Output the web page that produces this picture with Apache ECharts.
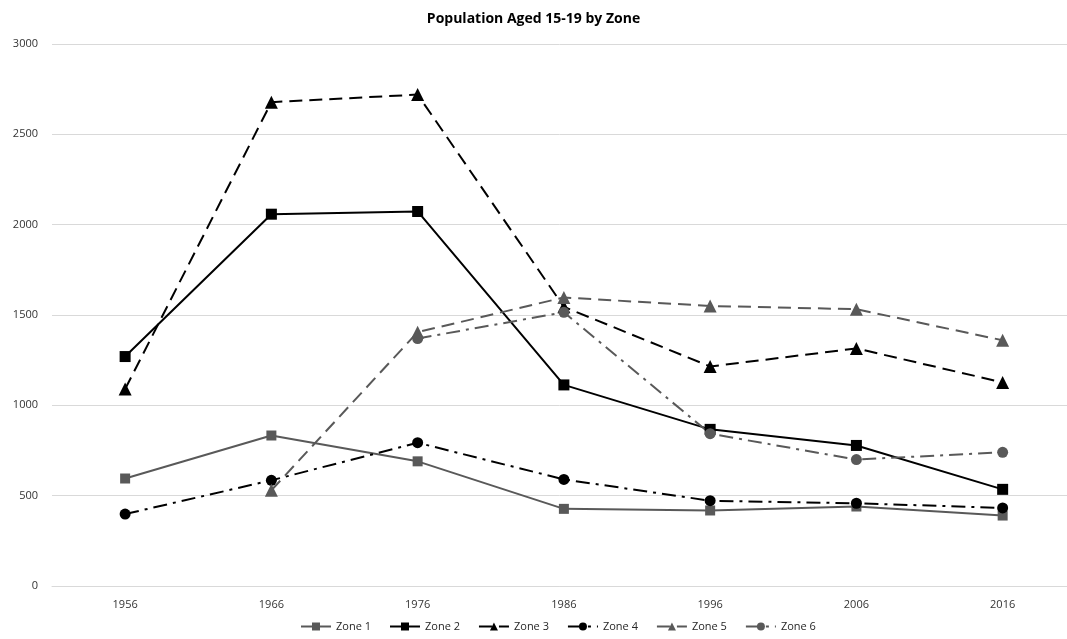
<!DOCTYPE html>
<html>
<head>
<meta charset="utf-8">
<script src="https://cdn.jsdelivr.net/npm/echarts@6/dist/echarts.min.js"></script>
<style>
  html, body { margin: 0; padding: 0; background: #fff; }
  #chart { width: 1067px; height: 639px; }
</style>
</head>
<body>
<div id="chart"></div>
<script>
// Census years
const years = [1956, 1966, 1976, 1986, 1996, 2006, 2016];

// Population aged 15-19 per zone (null = no figure for that year)
const zone1 = [595, 833, 690, 427, 418, 440, 390];
const zone2 = [1270, 2058, 2073, 1113, 867, 778, 535];
const zone3 = [1090, 2678, 2720, 1545, 1215, 1315, 1127];
const zone4 = [398, 585, 793, 590, 472, 458, 432];
const zone5 = [null, 530, 1405, 1597, 1550, 1532, 1360];
const zone6 = [null, null, 1370, 1515, 843, 700, 740];

const yTicks = [0, 500, 1000, 1500, 2000, 2500, 3000];

const BLACK = '#000000';
const GREY = '#595959';

function pairs(values) {
  return years.map((y, i) => [y, values[i]]);
}

function line(name, data, color, dash, symbol, size) {
  return {
    name: name,
    type: 'line',
    data: pairs(data),
    connectNulls: false,
    symbol: symbol,
    symbolSize: size,
    itemStyle: { color: color },
    lineStyle: { color: color, width: 2, type: dash },
    emphasis: { disabled: true },
    z: 3
  };
}

const chart = echarts.init(document.getElementById('chart'));
chart.setOption({
  animation: false,
  backgroundColor: '#ffffff',
  title: {
    text: 'Population Aged 15-19 by Zone',
    left: 'center',
    top: 7,
    textStyle: { fontFamily: 'Open Sans', fontSize: 14, fontWeight: 'bold', color: '#000' }
  },
  legend: {
    bottom: 2,
    left: 295,
    itemWidth: 30,
    itemHeight: 10,
    itemGap: 18,
    textStyle: { fontFamily: 'Open Sans', fontSize: 11, color: '#262626' },
    data: ['Zone 1', 'Zone 2', 'Zone 3', 'Zone 4', 'Zone 5', 'Zone 6']
  },
  grid: { left: 52, top: 44, bottom: 53, right: 0 },
  xAxis: {
    type: 'value',
    min: 1951,
    max: 2020.4,
    splitLine: { show: false },
    axisLine: { show: true, onZero: true, lineStyle: { color: '#d9d9d9' } },
    axisTick: { show: false },
    axisLabel: {
      customValues: years,
      fontFamily: 'Open Sans', fontSize: 11, color: '#333333', margin: 13,
      formatter: v => String(v)
    }
  },
  yAxis: {
    type: 'value',
    min: yTicks[0],
    max: yTicks[yTicks.length - 1],
    interval: 500,
    axisLine: { show: false },
    axisTick: { show: false },
    axisLabel: {
      fontFamily: 'Open Sans', fontSize: 11, color: '#333333', margin: 14,
      formatter: v => String(v)
    },
    splitLine: { lineStyle: { color: '#d9d9d9', width: 1 } }
  },
  series: [
    line('Zone 1', zone1, GREY, 'solid', 'rect', 10),
    line('Zone 2', zone2, BLACK, 'solid', 'rect', 11),
    line('Zone 3', zone3, BLACK, [13, 7], 'triangle', 13),
    line('Zone 4', zone4, BLACK, [14, 6, 3, 6], 'circle', 11),
    line('Zone 5', zone5, GREY, [13, 7], 'triangle', 13),
    line('Zone 6', zone6, GREY, [14, 6, 3, 6], 'circle', 11)
  ]
});
</script>
</body>
</html>
